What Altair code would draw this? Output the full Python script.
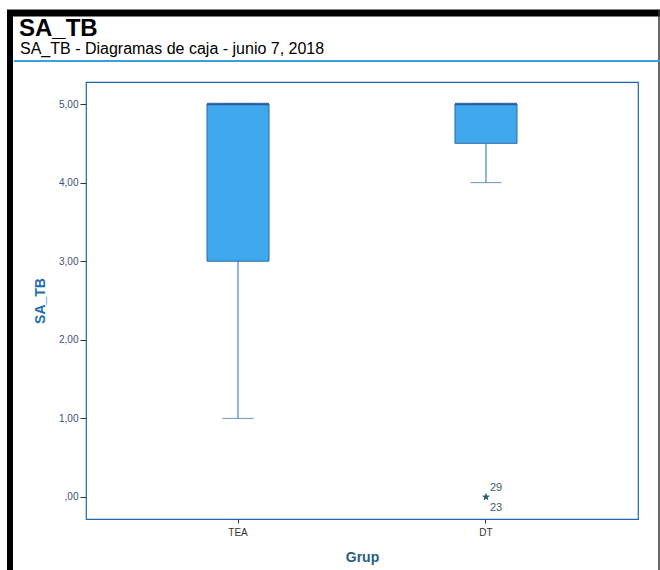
import altair as alt
import pandas as pd

# Box-plot summary per group
groups = ["TEA", "DT"]
mins = [1.0, 4.0]
q1s = [3.0, 4.5]
medians = [5.0, 5.0]
q3s = [5.0, 5.0]
maxs = [5.0, 5.0]

# Extreme values (asterisks) with their case numbers
out_groups = ["DT", "DT"]
out_values = [0.0, 0.0]
out_cases = ["29", "23"]
out_side = ["above", "below"]

y_ticks = [0, 1, 2, 3, 4, 5]

HEADER = "SA_TB"
SUBHEADER = "SA_TB - Diagramas de caja - junio 7, 2018"

FONT = "Liberation Sans"
W, H = 552, 437
PAD_L, PAD_T, PAD_R, PAD_B = 86, 82, 22, 51

# Five-pointed star inside the [-1, 1] square used by Vega's custom symbols
STAR_PATH = (
    "M0,-1L0.2245,-0.309L0.951,-0.309L0.363,0.118L0.588,0.809L0,0.382"
    "L-0.588,0.809L-0.363,0.118L-0.951,-0.309L-0.2245,-0.309Z"
)

boxes = pd.DataFrame({
    "Grup": groups, "lo": mins, "q1": q1s, "med": medians,
    "q3": q3s, "hi": maxs,
})
outliers = pd.DataFrame({
    "Grup": out_groups, "score": out_values, "caseno": out_cases, "side": out_side,
})

x_scale = alt.Scale(domain=groups, paddingInner=0.75, paddingOuter=0.488)
x_axis = alt.Axis(
    orient="bottom", title="Grup", labelAngle=0, labelFont=FONT,
    labelFontSize=10, labelColor="#333333", tickColor="#333333", tickSize=4,
    labelPadding=4, domain=False, grid=False,
    titleFont=FONT, titleFontSize=14, titleFontWeight="bold",
    titleColor="#2a5d80", titlePadding=13,
)
y_scale = alt.Scale(domain=[-0.28, 5.28], nice=False, zero=False)
y_axis = alt.Axis(
    orient="left", title="SA_TB", values=y_ticks,
    labelExpr="datum.value == 0 ? ',00' : datum.value + ',00'",
    labelFont=FONT, labelFontSize=10, labelColor="#3b5273",
    tickColor="#333333", tickSize=6, labelPadding=2,
    domain=False, grid=False,
    titleFont=FONT, titleFontSize=14, titleFontWeight="bold",
    titleColor="#1f6db0", titlePadding=11,
)


def xpos():
    return alt.X("Grup:N", scale=x_scale, axis=x_axis)


def ypos(field):
    return alt.Y(f"{field}:Q", scale=y_scale, axis=y_axis)


base = alt.Chart(boxes)

whisker = base.mark_rule(color="#2a6aa8", strokeWidth=1).encode(
    x=xpos(), y=ypos("lo"), y2="hi:Q"
)
cap_low = base.mark_tick(color="#2a6aa8", size=31, thickness=1).encode(
    x=xpos(), y=ypos("lo")
)
cap_high = base.mark_tick(color="#2a6aa8", size=31, thickness=1).encode(
    x=xpos(), y=ypos("hi")
)
box = base.mark_bar(fill="#3fa8ec", stroke="#2a6aa8", strokeWidth=1).encode(
    x=xpos(), y=ypos("q1"), y2="q3:Q"
)
median = base.mark_tick(color="#1a4f8c", size=62, thickness=2.5).encode(
    x=xpos(), y=ypos("med")
)

out_base = alt.Chart(outliers)
stars = out_base.mark_point(
    shape=STAR_PATH, filled=True, size=60, color="#2b5f6f", opacity=1
).encode(x=xpos(), y=ypos("score"))
label_above = out_base.transform_filter(alt.datum.side == "above").mark_text(
    align="left", baseline="middle", dx=4, dy=-9, font=FONT, fontSize=11,
    color="#3a5f6a",
).encode(x=xpos(), y=ypos("score"), text="caseno:N")
label_below = out_base.transform_filter(alt.datum.side == "below").mark_text(
    align="left", baseline="middle", dx=4, dy=11, font=FONT, fontSize=11,
    color="#3a5f6a",
).encode(x=xpos(), y=ypos("score"), text="caseno:N")

# Page frame: black bars at top and left, thin edge at right, blue rule under the header
frame = alt.Chart(pd.DataFrame({"k": [0]}))
top_bar = frame.mark_rule(color="#000000", strokeWidth=7).encode(
    x=alt.value(7 - PAD_L), x2=alt.value(660 - PAD_L), y=alt.value(13 - PAD_T)
)
left_bar = frame.mark_rule(color="#000000", strokeWidth=6).encode(
    x=alt.value(10 - PAD_L), y=alt.value(10 - PAD_T), y2=alt.value(570 - PAD_T)
)
right_edge = frame.mark_rule(color="#333333", strokeWidth=1.5).encode(
    x=alt.value(659 - PAD_L), y=alt.value(10 - PAD_T), y2=alt.value(570 - PAD_T)
)
header_rule = frame.mark_rule(color="#3a9fe0", strokeWidth=2).encode(
    x=alt.value(14 - PAD_L), x2=alt.value(660 - PAD_L), y=alt.value(61 - PAD_T)
)

# Output header: bold name and the descriptive line beneath it
header = frame.mark_text(
    align="left", baseline="alphabetic", font=FONT, fontSize=24,
    fontWeight="bold", color="#000000",
).encode(x=alt.value(19 - PAD_L), y=alt.value(36 - PAD_T), text=alt.value(HEADER))
subheader = frame.mark_text(
    align="left", baseline="alphabetic", font=FONT, fontSize=16,
    color="#000000",
).encode(x=alt.value(20 - PAD_L), y=alt.value(54 - PAD_T), text=alt.value(SUBHEADER))

chart = alt.layer(
    top_bar, left_bar, right_edge, header_rule, header, subheader,
    whisker, cap_low, cap_high, box, median, label_above, label_below, stars,
).properties(
    width=W, height=H,
    autosize=alt.AutoSizeParams(type="none"),
    padding={"left": PAD_L, "top": PAD_T, "right": PAD_R, "bottom": PAD_B},
).configure(
    background="#ffffff",
).configure_view(
    stroke="#2366b0", strokeWidth=1.2,
)

chart.save("out.html", embed_options={"renderer": "svg", "actions": False})
